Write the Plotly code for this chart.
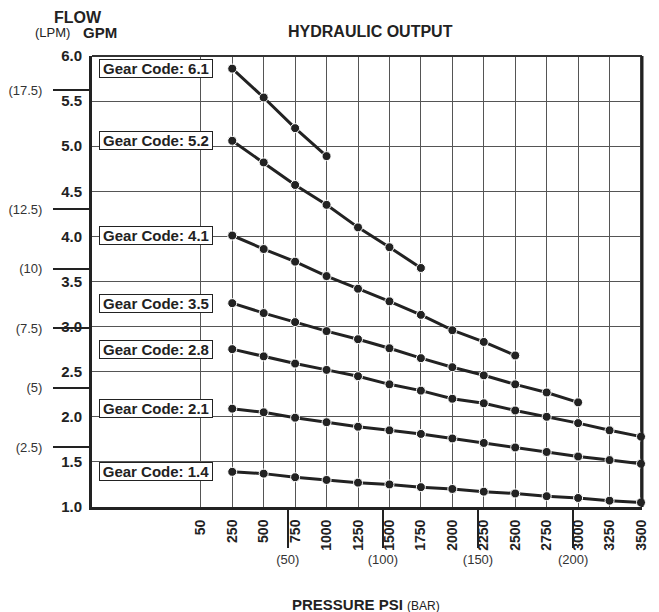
import plotly.graph_objects as go

# ---- data ----
psi = [250, 500, 750, 1000, 1250, 1500, 1750, 2000, 2250, 2500, 2750, 3000, 3250, 3500]
psi_ticks = [0] + psi
psi_ticktext = ["50"] + [str(p) for p in psi]

gear_codes = ["6.1", "5.2", "4.1", "3.5", "2.8", "2.1", "1.4"]
gpm_61 = [5.86, 5.54, 5.20, 4.89]
gpm_52 = [5.06, 4.82, 4.57, 4.35, 4.10, 3.88, 3.65]
gpm_41 = [4.01, 3.86, 3.72, 3.56, 3.42, 3.28, 3.13, 2.96, 2.83, 2.68]
gpm_35 = [3.26, 3.15, 3.05, 2.95, 2.86, 2.76, 2.65, 2.55, 2.46, 2.36, 2.27, 2.16]
gpm_28 = [2.75, 2.67, 2.59, 2.52, 2.45, 2.36, 2.29, 2.20, 2.15, 2.07, 2.00, 1.93, 1.85, 1.78]
gpm_21 = [2.09, 2.05, 1.99, 1.94, 1.89, 1.85, 1.81, 1.76, 1.71, 1.66, 1.61, 1.56, 1.52, 1.48]
gpm_14 = [1.39, 1.37, 1.33, 1.30, 1.27, 1.25, 1.22, 1.20, 1.17, 1.15, 1.12, 1.10, 1.07, 1.05]
series = [gpm_61, gpm_52, gpm_41, gpm_35, gpm_28, gpm_21, gpm_14]

gpm_ticks = [1.0, 1.5, 2.0, 2.5, 3.0, 3.5, 4.0, 4.5, 5.0, 5.5, 6.0]
lpm_ticks = [2.5, 5, 7.5, 10, 12.5, 17.5]
bar_ticks = [50, 100, 150, 200]

# ---- layout geometry (pixels) ----
# the visible page is a few px narrower than the window, so the plot's right
# edge is pulled in to keep the border and the "3500" label on screen
W, H = 659, 612
PL, PR, PT, PB = 92, 642, 56, 507
FONT = "Liberation Sans, Arial, sans-serif"
INK = "#222"


def px_x(x):
    return (x - PL) / (PR - PL)


def px_y(y):
    return (PB - y) / (PB - PT)


fig = go.Figure()

for code, vals in zip(gear_codes, series):
    fig.add_trace(go.Scatter(
        x=psi[:len(vals)], y=vals, mode="lines+markers",
        line=dict(color=INK, width=3),
        marker=dict(color=INK, size=9, line=dict(color="white", width=1)),
        cliponaxis=False, showlegend=False, name=code,
    ))
    fig.add_annotation(
        xref="paper", yref="y", x=px_x(99), y=vals[0],
        xanchor="left", yanchor="middle", showarrow=False,
        text="Gear Code: " + code, width=112, height=17, align="center",
        font=dict(family=FONT, size=15, color=INK, weight="bold"),
        bgcolor="white", bordercolor=INK, borderwidth=1, borderpad=0,
    )

# dummy trace so the secondary (LPM / BAR) axes are drawn
fig.add_trace(go.Scatter(x=[None], y=[None], xaxis="x2", yaxis="y2",
                         showlegend=False, hoverinfo="skip"))

# psi axis: "50" tick sits one step left of 250; keep reference proportions
x_lo, x_hi = -865, 3508
# bar scale as drawn on the original chart (linear in psi-axis units)
bar_psi50, bar_psi_per = 691.0, 15.13
bar_lo = 50 + (x_lo - bar_psi50) / bar_psi_per
bar_hi = 50 + (x_hi - bar_psi50) / bar_psi_per

fig.update_layout(
    width=W, height=H,
    margin=dict(l=PL, r=W - PR, t=PT, b=H - PB),
    paper_bgcolor="white", plot_bgcolor="white",
    font=dict(family=FONT, color=INK),
    xaxis=dict(
        range=[x_lo, x_hi], tickvals=psi_ticks, ticktext=psi_ticktext,
        tickangle=-90, tickfont=dict(size=14, weight="bold", color=INK),
        showgrid=True, gridcolor="#555", gridwidth=1, zeroline=False,
        showline=True, linecolor=INK, linewidth=3, ticks="",
        ticklabelstandoff=4, automargin=False,
    ),
    yaxis=dict(
        range=[1, 6], tickvals=gpm_ticks, tickformat=".1f",
        tickfont=dict(size=15, weight="bold", color=INK),
        showgrid=True, gridcolor="#555", gridwidth=1, zeroline=False,
        showline=True, linecolor=INK, linewidth=3, ticks="",
        ticklabelstandoff=4, automargin=False,
    ),
    xaxis2=dict(
        overlaying="x", side="bottom", anchor="y2",
        range=[bar_lo, bar_hi], tickvals=bar_ticks,
        ticktext=["(%d)" % b for b in bar_ticks],
        ticks="outside", ticklen=40, tickwidth=1.5, tickcolor=INK,
        tickfont=dict(size=13, color="#333"),
        showgrid=False, zeroline=False, showline=False, automargin=False,
    ),
    yaxis2=dict(
        overlaying="y", side="left", anchor="x2",
        range=[0, 5 * 3.785], tickvals=lpm_ticks,
        ticktext=["(%g)" % v for v in lpm_ticks],
        ticks="outside", ticklen=38, tickwidth=1.5, tickcolor=INK,
        tickfont=dict(size=13, color="#333"),
        showgrid=False, zeroline=False, showline=False,
        ticklabelstandoff=8, automargin=False,
    ),
)

# top (thin) and right (thick) borders of the plotting area
fig.add_shape(type="line", xref="paper", yref="paper", x0=0, x1=1, y0=1, y1=1,
              line=dict(color="#333", width=2))
fig.add_shape(type="line", xref="paper", yref="paper", x0=1, x1=1, y0=0, y1=1,
              line=dict(color=INK, width=3))

annots = [
    ("<b>HYDRAULIC OUTPUT</b>", 370, 32, 16),
    ("<b>FLOW</b>", 78, 17, 16),
    ("(LPM)", 52, 33, 13),
    ("<b>GPM</b>", 100, 33, 15),
    ("<b>PRESSURE PSI</b> <span style='font-size:12px'>(BAR)</span>", 366, 604, 15),
]
for text, x, y, size in annots:
    fig.add_annotation(xref="paper", yref="paper", x=px_x(x), y=px_y(y),
                       xanchor="center", yanchor="middle", showarrow=False,
                       text=text, font=dict(family=FONT, size=size, color=INK))

# drop the default page margin / scrollbars so the figure fills the window
page_css = ("document.body.style.margin='0px';"
            "document.body.style.overflow='hidden';"
            "document.documentElement.style.overflow='hidden';")
fig.write_html("out.html", post_script=page_css,
               config={"displayModeBar": False})
